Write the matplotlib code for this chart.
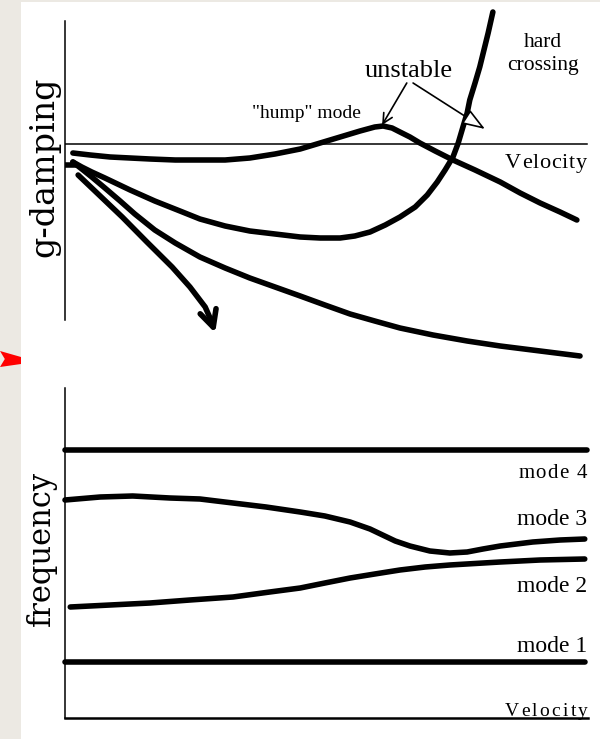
import matplotlib
matplotlib.use('Agg')
import matplotlib.pyplot as plt
from matplotlib.patches import Rectangle, Polygon
from matplotlib.font_manager import FontProperties

# ── Datos (velocidad en %, amortiguamiento g y frecuencia en unidades arbitrarias) ──
hump_v = [1.5, 4.8, 8.6, 12.4, 16.2, 21.0, 25.7, 30.5, 35.2, 40.0, 44.8, 48.6, 52.4, 56.2,
          59.0, 60.6, 62.3, 63.8, 65.7, 67.6, 70.5, 73.9, 78.1, 82.9, 86.7, 90.5, 94.3, 97.5]
hump_g = [-0.9, -1.1, -1.3, -1.4, -1.5, -1.6, -1.6, -1.6, -1.4, -1.0, -0.5, 0.1, 0.7, 1.3,
          1.7, 1.8, 1.6, 1.2, 0.7, 0.1, -0.7, -1.6, -2.6, -3.8, -4.9, -5.9, -6.8, -7.6]

hard_v = [1.5, 3.2, 5.1, 7.6, 12.4, 17.1, 21.9, 25.7, 30.5, 35.2, 40.0, 44.8, 48.6, 52.4,
          55.2, 58.1, 61.0, 63.8, 66.7, 69.0, 70.9, 72.4, 73.9, 74.9, 75.8, 76.6, 77.1,
          78.1, 79.0, 79.8, 80.6, 81.5]
hard_g = [-1.8, -2.3, -2.8, -3.4, -4.6, -5.7, -6.7, -7.5, -8.2, -8.7, -9.0, -9.3, -9.4, -9.4,
          -9.2, -8.8, -8.1, -7.3, -6.3, -5.1, -3.8, -2.6, -1.3, 0.1, 1.7, 3.1, 4.4,
          6.1, 7.7, 9.4, 11.1, 13.2]

low_v = [1.5, 3.2, 5.1, 7.6, 10.5, 13.3, 17.1, 21.0, 25.7, 30.5, 35.2, 40.0, 44.8, 49.5,
         54.3, 59.0, 63.8, 70.1, 76.6, 82.9, 90.5, 98.1]
low_g = [-1.8, -2.5, -3.3, -4.4, -5.7, -7.0, -8.6, -9.9, -11.3, -12.4, -13.4, -14.3, -15.2,
         -16.1, -17.0, -17.7, -18.4, -19.1, -19.7, -20.2, -20.7, -21.2]

steep_v = [2.5, 6.7, 10.9, 15.6, 20.4, 23.8, 26.7, 27.8, 28.6]
steep_g = [-3.1, -5.2, -7.3, -9.8, -12.3, -14.3, -16.3, -17.6, -18.9]

stub_v = [0.0, 2.0]
stub_g = [-2.1, -2.1]

freq_v = {
    'mode 4': [0.0, 99.4],
    'mode 3': [0.0, 6.7, 12.9, 20.0, 25.7, 32.0, 38.3, 44.8, 49.5, 54.3, 58.1, 60.9, 62.9,
               65.7, 69.5, 73.3, 76.6, 79.6, 82.9, 89.1, 94.3, 99.0],
    'mode 2': [1.0, 8.6, 16.2, 23.8, 32.0, 39.0, 44.8, 49.5, 54.3, 59.0, 63.8, 68.6, 73.3,
               82.9, 90.5, 99.0],
    'mode 1': [0.0, 99.0],
}
freq_f = {
    'mode 4': [26.8, 26.8],
    'mode 3': [21.8, 22.1, 22.2, 22.0, 21.9, 21.5, 21.1, 20.6, 20.2, 19.6, 18.9, 18.2, 17.7,
               17.2, 16.7, 16.5, 16.6, 16.9, 17.2, 17.6, 17.8, 17.9],
    'mode 2': [11.1, 11.3, 11.5, 11.8, 12.1, 12.6, 13.0, 13.5, 14.0, 14.4, 14.8, 15.1, 15.3,
               15.6, 15.8, 15.9],
    'mode 1': [5.6, 5.6],
}
# etiqueta de cada modo: frecuencia de la línea base, tamaño y ancho total (pt, None = natural)
mode_label_f = {'mode 4': 24.0, 'mode 3': 19.3, 'mode 2': 12.6, 'mode 1': 6.6}
mode_label_size = {'mode 4': 15, 'mode 3': 17, 'mode 2': 17, 'mode 1': 17}
mode_label_width = {'mode 4': 49.5, 'mode 3': None, 'mode 2': None, 'mode 1': None}

SERIF = 'Liberation Serif'
LW = 4.0

fig = plt.figure(figsize=(6, 7.39), dpi=100, facecolor='#ECE9E3')
fig.patches.append(Rectangle((21 / 600, 0), 1, 737 / 739, transform=fig.transFigure,
                             facecolor='white', edgecolor='none', zorder=-10))
# marca roja en el margen izquierdo
fig.patches.append(Polygon([(0, 388 / 739), (0.035, 382 / 739), (0.035, 375 / 739),
                            (0, 372 / 739), (0.008, 380 / 739)],
                           closed=True, transform=fig.transFigure,
                           facecolor='#FF0000', edgecolor='none', zorder=-5))


def spaced_label(ax, x, y, s, size, width=None):
    """Texto alineado a la derecha en (x, y); si se da width (pt) reparte el espacio entre letras."""
    if width is None:
        ax.text(x, y, s, family=SERIF, fontsize=size, ha='right', va='baseline')
        return
    renderer = fig.canvas.get_renderer()
    prop = FontProperties(family=SERIF, size=size)
    adv = []
    for ch in s:
        if ch == ' ':
            adv.append(size * 0.25)
        else:
            w = renderer.get_text_width_height_descent(ch, prop, ismath=False)[0]
            adv.append(w * 72 / fig.dpi)
    gap = (width - sum(adv)) / (len(s) - 1)
    off = -width
    for ch, w in zip(s, adv):
        if ch != ' ':
            ax.annotate(ch, xy=(x, y), xytext=(off, 0), textcoords='offset points',
                        family=SERIF, fontsize=size, ha='left', va='baseline',
                        annotation_clip=False)
        off += w + gap


# ── Panel superior: amortiguamiento ──────────────────────────────
ax1 = fig.add_axes([65 / 600, 419 / 739, 525 / 600, 299 / 739])
ax1.set_xlim(0, 100)
ax1.set_ylim(-17.6, 12.3)
ax1.patch.set_alpha(0)
for s in ['top', 'right', 'bottom']:
    ax1.spines[s].set_visible(False)
ax1.spines['left'].set_linewidth(1.1)
ax1.set_xticks([])
ax1.set_yticks([])

ax1.plot([0, 99.4], [0, 0], color='black', lw=1.1)
curve_kw = dict(color='black', lw=LW, solid_capstyle='round', solid_joinstyle='round',
                clip_on=False)
ax1.plot(hump_v, hump_g, **curve_kw)
ax1.plot(hard_v, hard_g, **curve_kw)
ax1.plot(low_v, low_g, **curve_kw)
ax1.plot(steep_v[:-1], steep_g[:-1], **curve_kw)
ax1.plot(stub_v, stub_g, color='black', lw=LW, solid_capstyle='butt', clip_on=False)
ax1.annotate('', xy=(steep_v[-1], steep_g[-1]), xytext=(steep_v[-2], steep_g[-2]),
             annotation_clip=False,
             arrowprops=dict(arrowstyle='->,head_length=1.2,head_width=0.6',
                             lw=LW, color='black', mutation_scale=10,
                             shrinkA=0, shrinkB=0, capstyle='round'))

ax1.text(45.9, 2.6, '"hump" mode', family=SERIF, fontsize=14, ha='center', va='baseline')
ax1.text(65.5, 6.7, 'unstable', family=SERIF, fontsize=19, ha='center', va='baseline')
ax1.annotate('', xy=(60.4, 1.9), xytext=(65.1, 6.1), annotation_clip=False,
             arrowprops=dict(arrowstyle='->,head_length=0.7,head_width=0.35',
                             lw=1.2, color='black', mutation_scale=10,
                             shrinkA=0, shrinkB=0))
ax1.annotate('', xy=(80.0, 1.5), xytext=(66.3, 6.1), annotation_clip=False,
             arrowprops=dict(arrowstyle='-|>,head_length=1.4,head_width=0.5',
                             lw=1.2, color='black', fc='white', mutation_scale=10,
                             shrinkA=0, shrinkB=0))
ax1.text(91.0, 9.7, 'hard', family=SERIF, fontsize=15.5, ha='center', va='baseline')
ax1.text(91.0, 7.4, 'crossing', family=SERIF, fontsize=15.5, ha='center', va='baseline')
spaced_label(ax1, 99.4, -2.4, 'Velocity', 16, width=59)

# ── Panel inferior: frecuencia ───────────────────────────────────
ax2 = fig.add_axes([65 / 600, 21 / 739, 525 / 600, 330 / 739])
ax2.set_xlim(0, 100)
ax2.set_ylim(0, 33)
ax2.patch.set_alpha(0)
for s in ['top', 'right']:
    ax2.spines[s].set_visible(False)
ax2.spines['left'].set_linewidth(1.1)
ax2.spines['bottom'].set_linewidth(1.8)
ax2.spines['bottom'].set_bounds(0, 99.6)
ax2.set_xticks([])
ax2.set_yticks([])

for name in freq_v:
    ax2.plot(freq_v[name], freq_f[name], color='black', lw=LW,
             solid_capstyle='round', solid_joinstyle='round', clip_on=False)
    spaced_label(ax2, 99.4, mode_label_f[name], name, mode_label_size[name],
                 width=mode_label_width[name])
spaced_label(ax2, 99.6, 0.25, 'Velocity', 14, width=60)

# ── Títulos de los ejes ──────────────────────────────────────────
fig.text(44 / 600, 1 - 167 / 739, 'g-damping', family='DejaVu Serif', fontsize=24,
         rotation=90, ha='center', va='center')
fig.text(41 / 600, 1 - 548 / 739, 'frequency', family='DejaVu Serif', fontsize=22,
         rotation=90, ha='center', va='center')

fig.savefig('out.png', dpi=100, facecolor=fig.get_facecolor())
